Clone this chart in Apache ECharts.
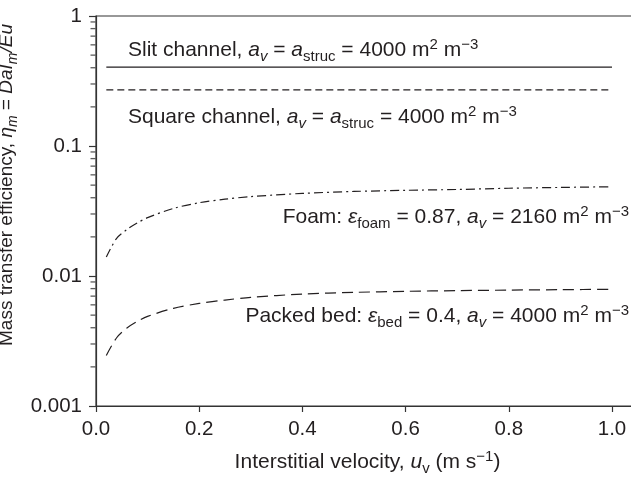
<!DOCTYPE html>
<html>
<head>
<meta charset="utf-8">
<script src="https://cdn.jsdelivr.net/npm/echarts@6/dist/echarts.min.js"></script>
<style>
  html, body { margin: 0; padding: 0; background: #fff; }
  #main { width: 631px; height: 478px; }
</style>
</head>
<body>
<div id="main"></div>
<script>
var velocity = [0.02, 0.04, 0.06, 0.08, 0.1, 0.15, 0.2, 0.25, 0.3, 0.4, 0.5, 0.6, 0.7, 0.8, 0.9, 1.0];
var slitChannel = [0.405, 0.405, 0.405, 0.405, 0.405, 0.405, 0.405, 0.405, 0.405, 0.405, 0.405, 0.405, 0.405, 0.405, 0.405, 0.405];
var squareChannel = [0.27, 0.27, 0.27, 0.27, 0.27, 0.27, 0.27, 0.27, 0.27, 0.27, 0.27, 0.27, 0.27, 0.27, 0.27, 0.27];
var foam = [0.0140, 0.0195, 0.0228, 0.0256, 0.0281, 0.0331, 0.0366, 0.0390, 0.0408, 0.0432, 0.0447, 0.0456, 0.0463, 0.0473, 0.0480, 0.0486];
var packedBed = [0.00245, 0.00335, 0.00398, 0.00447, 0.00489, 0.00564, 0.00615, 0.00653, 0.00685, 0.00726, 0.00748, 0.00762, 0.00772, 0.00779, 0.00785, 0.0079];
var minorTicks = [0.002, 0.003, 0.004, 0.005, 0.006, 0.007, 0.008, 0.009,
                  0.02, 0.03, 0.04, 0.05, 0.06, 0.07, 0.08, 0.09,
                  0.2, 0.3, 0.4, 0.5, 0.6, 0.7, 0.8, 0.9];

var ink = '#231f20';
var font = 'Liberation Sans';

function pairs(ys) {
    return velocity.map(function (x, i) { return [x, ys[i]]; });
}

// rich styles for sub / superscripts at a given base size
function richFor(size) {
    var small = Math.round(size * 0.72);
    return {
        it: { fontStyle: 'italic', fontSize: size, fontFamily: font, color: ink },
        sub: { fontSize: small, fontFamily: font, color: ink, verticalAlign: 'top', padding: [Math.round(size * 0.62), 0, 0, 0] },
        itsub: { fontSize: small, fontStyle: 'italic', fontFamily: font, color: ink, verticalAlign: 'top', padding: [Math.round(size * 0.62), 0, 0, 0] },
        sup: { fontSize: small, fontFamily: font, color: ink, verticalAlign: 'top', padding: [1, 0, 0, 0] }
    };
}

function note(text, x, y, align) {
    return {
        type: 'text',
        x: x,
        y: y,
        style: {
            text: text,
            align: align,
            verticalAlign: 'middle',
            fontSize: 21,
            fontFamily: font,
            fill: ink,
            rich: richFor(21)
        }
    };
}

var myChart = echarts.init(document.getElementById('main'));

var option = {
    animation: false,
    backgroundColor: '#fff',
    grid: {
        left: 96,
        top: 16,
        right: -20,
        bottom: 72,
        show: true,
        borderColor: '#333',
        borderWidth: 1.2,
        outerBoundsMode: 'none'
    },
    xAxis: {
        type: 'value',
        min: 0,
        max: 1.0756,
        interval: 0.2,
        name: 'Interstitial velocity, {it|u}{sub|v} (m s{sup|−1})',
        nameLocation: 'middle',
        nameGap: 42,
        nameTextStyle: { fontSize: 21, fontFamily: font, color: ink, rich: richFor(21), padding: [0, 12, 0, 0] },
        axisLine: { lineStyle: { color: '#333', width: 1.2 } },
        axisTick: { length: 6, lineStyle: { color: '#333', width: 1.2 } },
        axisLabel: {
            fontSize: 20.5, fontFamily: font, color: ink, margin: 13, showMaxLabel: false,
            formatter: function (v) { return v.toFixed(1); }
        },
        splitLine: { show: false }
    },
    yAxis: {
        type: 'log',
        min: 0.001,
        max: 1,
        name: 'Mass transfer efficiency, {it|η}{itsub|m} = {it|DaI}{itsub|m}{it|/Eu}',
        nameLocation: 'middle',
        nameGap: 68,
        nameTextStyle: { fontSize: 19, fontFamily: font, color: ink, rich: richFor(19), padding: [0, 0, 0, 52] },
        axisLine: { show: true, lineStyle: { color: '#333', width: 1.2 } },
        axisTick: { length: 7, lineStyle: { color: '#333', width: 1.2 } },
        axisLabel: { fontSize: 20.5, fontFamily: font, color: ink, margin: 14 },
        splitLine: { show: false }
    },
    series: [
        {
            name: 'Slit channel',
            type: 'line',
            data: pairs(slitChannel),
            showSymbol: false,
            lineStyle: { color: ink, width: 1.2, type: 'solid' }
        },
        {
            name: 'Square channel',
            type: 'line',
            data: pairs(squareChannel),
            showSymbol: false,
            lineStyle: { color: ink, width: 1.2, type: [7, 4] }
        },
        {
            name: 'Foam',
            type: 'line',
            data: pairs(foam),
            smooth: 0.3,
            showSymbol: false,
            lineStyle: { color: ink, width: 1.2, type: [9, 4, 2, 4] }
        },
        {
            name: 'Packed bed',
            type: 'line',
            data: pairs(packedBed),
            smooth: 0.3,
            showSymbol: false,
            lineStyle: { color: ink, width: 1.2, type: [11, 6] }
        },
        {
            // minor ticks of the log axis (2..9 in every decade), as thin rect symbols left of the axis
            name: 'minor ticks',
            type: 'scatter',
            silent: true,
            clip: false,
            z: 5,
            symbol: 'rect',
            symbolSize: [5, 1.3],
            symbolOffset: [-3, 0],
            itemStyle: { color: '#333' },
            data: minorTicks.map(function (v) { return [0, v]; })
        }
    ],
    graphic: [
        note('Slit channel, {it|a}{itsub|v} = {it|a}{sub|struc} = 4000 m{sup|2} m{sup|−3}', 128, 50, 'left'),
        note('Square channel, {it|a}{itsub|v} = {it|a}{sub|struc} = 4000 m{sup|2} m{sup|−3}', 128, 117, 'left'),
        note('Foam: {it|ε}{sub|foam} = 0.87, {it|a}{itsub|v} = 2160 m{sup|2} m{sup|−3}', 629, 217, 'right'),
        note('Packed bed: {it|ε}{sub|bed} = 0.4, {it|a}{itsub|v} = 4000 m{sup|2} m{sup|−3}', 629, 316, 'right')
    ]
};

myChart.setOption(option);
</script>
</body>
</html>
